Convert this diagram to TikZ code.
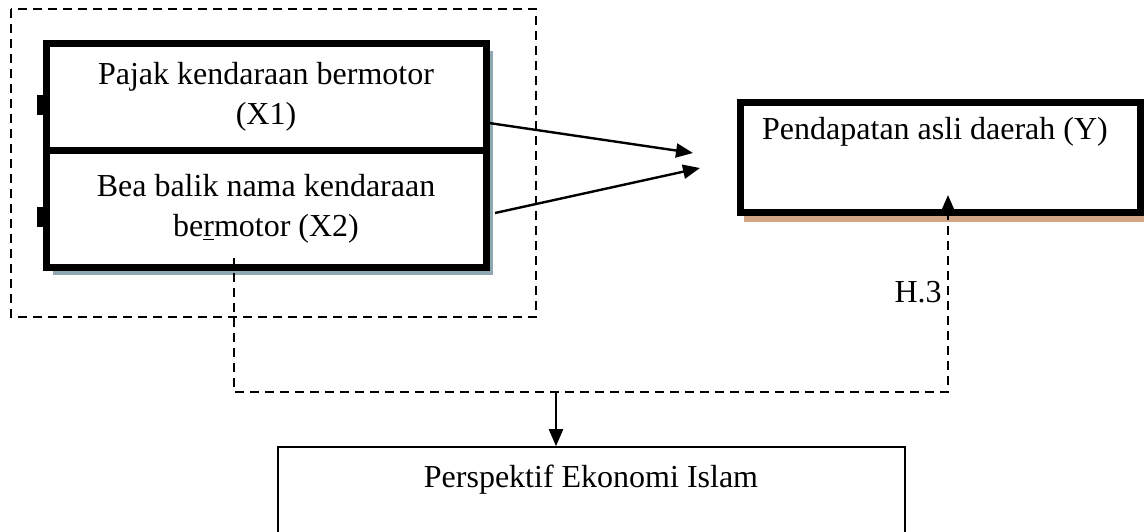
\documentclass[tikz,border=0pt]{standalone}
\usepackage{fontspec}
\setmainfont{Liberation Serif}
\usetikzlibrary{arrows.meta,shadows}
\definecolor{shadowblue}{HTML}{8FA9B2}
\definecolor{shadowtan}{HTML}{D2A686}
\newcommand{\diagfont}{\fontsize{16}{20}\selectfont}
\tikzset{
  varbox/.style ={rectangle, draw=black, line width=3.5pt, fill=white,
                  minimum width=220pt, align=center, font=\diagfont,
                  drop shadow={shadow xshift=3.5pt, shadow yshift=-4pt,
                               fill=shadowblue, opacity=1}},
  ybox/.style   ={rectangle, draw=black, line width=3.5pt, fill=white,
                  minimum width=200pt, minimum height=55pt,
                  drop shadow={shadow xshift=2pt, shadow yshift=-5pt,
                               fill=shadowtan, opacity=1}},
  ibox/.style   ={rectangle, draw=black, line width=0.8pt, fill=white,
                  minimum width=313.5pt, minimum height=60pt},
  txt/.style    ={font=\diagfont, inner sep=0pt},
  dashln/.style ={line width=1.2pt, dash pattern=on 4.5pt off 3pt},
  ar/.style     ={-{Triangle[length=8.5pt,width=7pt]}, line width=1.2pt}
}

\begin{document}
\begin{tikzpicture}[x=0.5pt,y=-0.5pt]
\clip (0,0) rectangle (1144,531);
% frame round the two variables
\draw[dashln] (11,9) rectangle (536,317);
\fill (37,95) rectangle (43,115);
\fill (37,207) rectangle (43,227);
\node[varbox, minimum height=53.5pt] (x1) at (266,96.5)
  {Pajak kendaraan bermotor\\(X1)};
\node[varbox, minimum height=58.5pt] (x2) at (266,208.5)
  {Bea balik nama kendaraan\\be\underline{r}motor (X2)};
\node[ybox] (y) at (940,157) {};
\node[txt] (ytxt) at (935,132) {Pendapatan asli daerah (Y)};
\node[ibox] (islam) at (591.5,507) {};
\node[txt] (islamtxt) at (591,480) {Perspektif Ekonomi Islam};
\coordinate (x1out) at (489,123);
\coordinate (x2out) at (495,213);
\coordinate (y1in) at (693,153);
\coordinate (y2in) at (700,168);
\draw[ar] (x1out) -- (y1in);
\draw[ar] (x2out) -- (y2in);
% simultaneous path H.3
\coordinate (h3start) at (234,258);
\coordinate (h3tip) at (948,195);
\coordinate (join) at (556,392);
\draw[dashln] (h3start) -- (234,392) -| (948,214);
\draw[ar] (948,214) -- (h3tip);
\node[txt, anchor=east] (h3) at (942,292) {H.3};
\draw[ar] (join) -- (join |- islam.north);
\end{tikzpicture}
\end{document}
